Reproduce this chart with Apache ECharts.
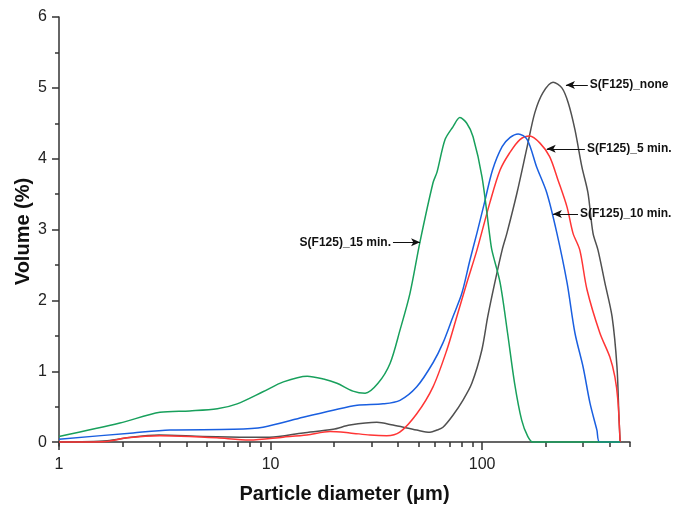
<!DOCTYPE html>
<html>
<head>
<meta charset="utf-8">
<script src="https://cdn.jsdelivr.net/npm/echarts@6/dist/echarts.min.js"></script>
<style>
  html, body { margin: 0; padding: 0; background: #fff; }
  #chart { width: 688px; height: 506px; }
</style>
</head>
<body>
<div id="chart"></div>
<script>
// Particle size distributions (diameter in µm, volume in %)
const sizeNone = [1, 1.69, 2.19, 2.97, 4.79, 7.85, 9.89, 14.25, 19.76, 23.7, 31.8, 37.9, 49.1, 56.7, 61.2, 65.3, 72.8, 81.1, 89.4, 99.7, 106.3, 114.8, 124.3, 131.0, 146.2, 163.3, 177.5, 193.6, 216.4, 238.2, 255.2, 274.6, 296.4, 316.3, 334.2, 353, 380.3, 411.4, 434, 443.4, 449];
const volNone = [0.0, 0.02, 0.07, 0.10, 0.08, 0.07, 0.07, 0.13, 0.18, 0.24, 0.28, 0.24, 0.17, 0.14, 0.17, 0.21, 0.38, 0.59, 0.83, 1.30, 1.77, 2.25, 2.71, 2.95, 3.52, 4.17, 4.65, 4.93, 5.08, 5.00, 4.79, 4.41, 3.88, 3.52, 2.95, 2.71, 2.25, 1.77, 1.06, 0.35, 0];

const size5 = [1, 1.68, 2.10, 3.0, 4.14, 5.58, 7.95, 11.45, 14.85, 19.1, 23.7, 29.5, 35.4, 40.8, 49.1, 58.6, 68.1, 75.9, 84.7, 94.5, 108.8, 121.6, 134.8, 150.9, 167.9, 187.7, 208.5, 228.3, 251.8, 268.8, 289.6, 313.2, 360.2, 401.6, 424.2, 438.2, 449];
const vol5 = [0.0, 0.01, 0.06, 0.09, 0.08, 0.06, 0.03, 0.07, 0.10, 0.15, 0.13, 0.10, 0.09, 0.14, 0.40, 0.78, 1.30, 1.77, 2.25, 2.71, 3.38, 3.84, 4.08, 4.27, 4.32, 4.22, 4.03, 3.70, 3.32, 2.95, 2.71, 2.15, 1.54, 1.20, 0.92, 0.59, 0];

const size10 = [1, 2.24, 3.35, 6.65, 9.21, 14.25, 19.76, 25.65, 34.0, 40.9, 49.1, 58.6, 65.3, 72.8, 80.2, 87.6, 94.5, 102.6, 112.0, 124.3, 135.7, 148.1, 163.3, 181.2, 202.1, 225.6, 252, 274.6, 300.1, 323.5, 348.8, 360, 449];
const vol10 = [0.04, 0.13, 0.17, 0.18, 0.21, 0.35, 0.45, 0.52, 0.54, 0.59, 0.78, 1.12, 1.40, 1.77, 2.10, 2.57, 2.95, 3.38, 3.84, 4.17, 4.30, 4.35, 4.27, 3.88, 3.52, 2.95, 2.25, 1.54, 1.06, 0.55, 0.17, 0, 0];

const size15 = [1, 1.94, 3.0, 4.15, 5.6, 6.95, 9.2, 11.5, 14.9, 17.8, 20.6, 24.5, 28.0, 32.2, 36.7, 40.9, 45.6, 50.8, 58.6, 61.2, 66.8, 72.8, 78.5, 84.6, 90.6, 99.9, 108.8, 111.2, 121.6, 131.9, 142.4, 153.8, 164.3, 173.7, 449];
const vol15 = [0.08, 0.27, 0.42, 0.44, 0.47, 0.54, 0.71, 0.85, 0.93, 0.89, 0.83, 0.72, 0.69, 0.83, 1.11, 1.58, 2.10, 2.82, 3.66, 3.81, 4.27, 4.45, 4.58, 4.50, 4.31, 3.74, 2.90, 2.71, 2.25, 1.54, 0.83, 0.31, 0.08, 0.0, 0.0];

// Axis ticks
const xMajorTicks = [1, 10, 100];
const xMinorTicks = [2, 3, 4, 5, 6, 7, 8, 9, 20, 30, 40, 50, 60, 70, 80, 90, 200, 300, 400, 500];
const yMajorTicks = [0, 1, 2, 3, 4, 5, 6];
const yMinorTicks = [0.5, 1.5, 2.5, 3.5, 4.5, 5.5];

// Callouts: label, arrow tail [size, vol], arrow head [size, vol]
const callouts = [
  { name: 'S(F125)_none',    tail: [316, 5.04], head: [249, 5.04] },
  { name: 'S(F125)_5 min.',  tail: [306, 4.14], head: [202, 4.14] },
  { name: 'S(F125)_10 min.', tail: [284, 3.22], head: [216, 3.22] },
  { name: 'S(F125)_15 min.', tail: [37.9, 2.82], head: [50.9, 2.82] }
];

const zip = (xs, ys) => xs.map((x, i) => [x, ys[i]]);

const FONT = '"Liberation Sans", Arial, sans-serif';
const AXIS_COLOR = '#333';

function calloutLine(c) {
  return {
    silent: true,
    symbol: ['none', 'arrow'],
    symbolSize: [6, 9],
    lineStyle: { color: '#111', width: 1, type: 'solid' },
    label: {
      show: true,
      position: 'start',
      distance: 2,
      formatter: c.name,
      fontFamily: FONT,
      fontWeight: 'bold',
      fontSize: 12,
      color: '#111'
    },
    emphasis: { disabled: true },
    data: [[{ coord: c.tail }, { coord: c.head }]]
  };
}

const lineSeries = (name, xs, ys, color, callout) => ({
  name,
  type: 'line',
  data: zip(xs, ys),
  showSymbol: false,
  smooth: 0.3,
  lineStyle: { color, width: 1.5 },
  itemStyle: { color },
  z: 3,
  markLine: calloutLine(callout)
});

const chart = echarts.init(document.getElementById('chart'), null, { renderer: 'canvas' });

chart.setOption({
  animation: false,
  backgroundColor: '#fff',
  grid: { left: 59, right: 58, top: 17, bottom: 60, containLabel: false, outerBoundsMode: 'none' },
  xAxis: [
    {
      type: 'log',
      logBase: 10,
      min: 1,
      max: 500,
      name: 'Particle diameter (\u03bcm)',
      nameLocation: 'middle',
      nameGap: 38,
      nameMoveOverlap: false,
      nameTextStyle: { fontFamily: FONT, fontWeight: 'bold', fontSize: 20, color: '#111' },
      axisLine: { show: true, lineStyle: { color: AXIS_COLOR, width: 1.5 } },
      axisTick: { show: true, inside: false, length: 8, customValues: xMajorTicks, lineStyle: { color: AXIS_COLOR, width: 1.5 } },
      axisLabel: { customValues: xMajorTicks, margin: 11, fontFamily: FONT, fontSize: 16, color: '#222' },
      splitLine: { show: false },
      minorTick: { show: false }
    },
    {
      type: 'log',
      logBase: 10,
      min: 1,
      max: 500,
      position: 'bottom',
      axisLine: { show: false },
      axisTick: { show: true, inside: false, length: 5, customValues: xMinorTicks, lineStyle: { color: AXIS_COLOR, width: 1.5 } },
      axisLabel: { show: false },
      splitLine: { show: false }
    }
  ],
  yAxis: [
    {
      type: 'value',
      min: -0.055,
      max: 6,
      name: 'Volume (%)',
      nameLocation: 'middle',
      nameGap: 26,
      nameMoveOverlap: false,
      nameTextStyle: { fontFamily: FONT, fontWeight: 'bold', fontSize: 20, color: '#111' },
      axisLine: { show: true, lineStyle: { color: AXIS_COLOR, width: 1.5 } },
      axisTick: { show: true, inside: false, length: 7, customValues: yMajorTicks, lineStyle: { color: AXIS_COLOR, width: 1.5 } },
      axisLabel: { customValues: yMajorTicks, margin: 12, fontFamily: FONT, fontSize: 16, color: '#222' },
      splitLine: { show: false }
    },
    {
      type: 'value',
      min: -0.055,
      max: 6,
      position: 'left',
      axisLine: { show: false },
      axisTick: { show: true, inside: false, length: 4, customValues: yMinorTicks, lineStyle: { color: AXIS_COLOR, width: 1.5 } },
      axisLabel: { show: false },
      splitLine: { show: false }
    }
  ],
  series: [
    lineSeries('S(F125)_none', sizeNone, volNone, '#505050', callouts[0]),
    lineSeries('S(F125)_5 min.', size5, vol5, '#ff3535', callouts[1]),
    lineSeries('S(F125)_10 min.', size10, vol10, '#1a5fe0', callouts[2]),
    lineSeries('S(F125)_15 min.', size15, vol15, '#18a05c', callouts[3])
  ]
});
</script>
</body>
</html>
